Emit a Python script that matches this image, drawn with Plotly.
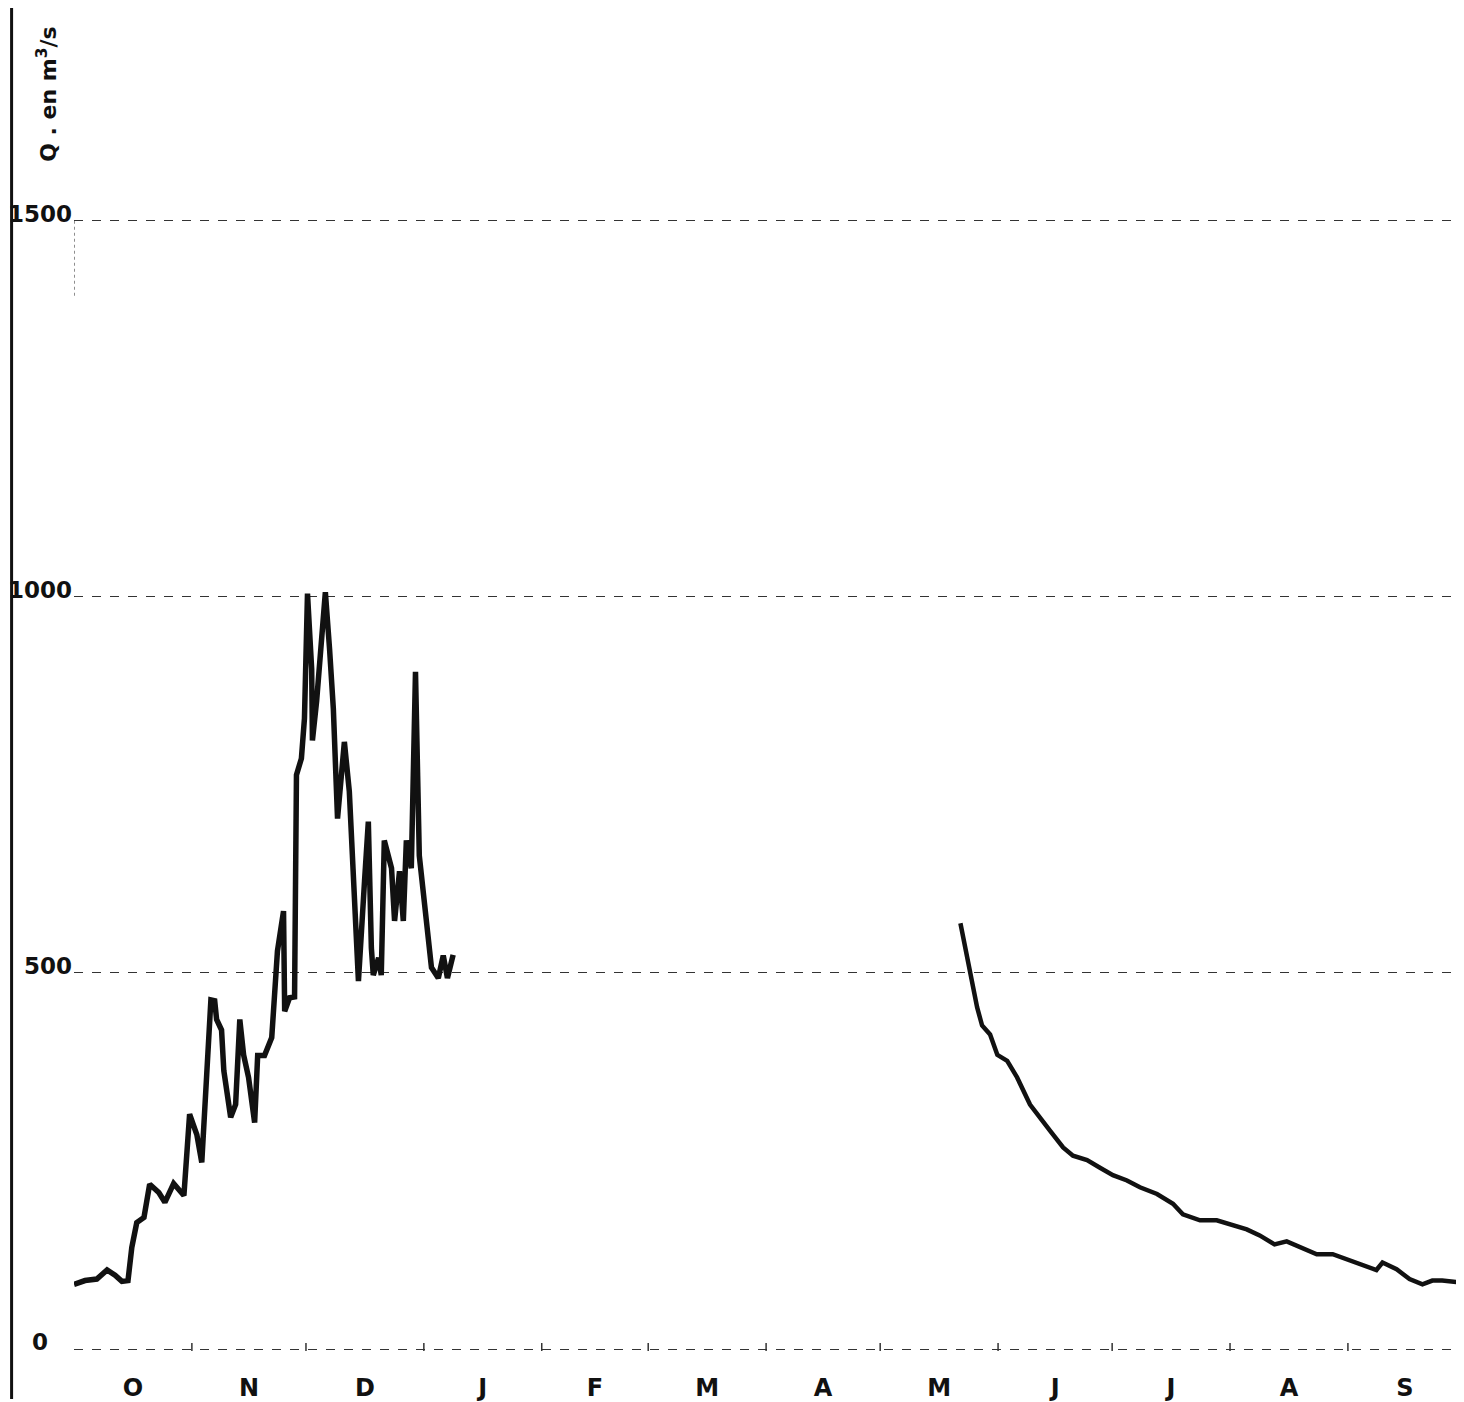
import plotly.graph_objects as go

# Hydrological year Oct -> Sep ; x = day since 1 October
month_labels = ["O", "N", "D", "J", "F", "M", "A", "M", "J", "J", "A", "S"]
month_days = [31, 30, 31, 31, 28, 31, 30, 31, 30, 31, 31, 30]
y_ticks = [0, 500, 1000, 1500]
y_ticktext = ["0\u00a0\u00a0\u00a0", "500", "1000", "1500"]

# Autumn-winter flood period (Oct -> early Jan)
day_a = [0, 2.9, 6.0, 8.7, 10.8, 12.6, 14.2, 15.2, 16.5, 18.4, 19.9, 22.3, 23.9,
         26.2, 28.9, 30.4, 32.3, 33.6, 34.9, 36.0, 37.0, 37.5, 38.8, 39.4, 41.2,
         42.5, 43.6, 44.6, 45.9, 47.5, 48.3, 50.1, 52.0, 53.5, 55.1, 55.4, 56.7,
         58.0, 58.5, 59.8, 60.6, 61.4, 62.5, 62.7, 63.8, 65.1, 66.1, 67.2, 68.2,
         69.3, 70.3, 71.1, 72.4, 73.5, 74.8, 76.4, 77.4, 78.2, 78.7, 80.1, 80.8,
         81.6, 83.5, 84.3, 85.6, 86.6, 87.4, 88.7, 89.8, 90.8, 92.7, 94.0, 95.8,
         97.1, 98.2, 99.7]
q_a = [86, 91, 93, 105, 98, 90, 91, 135, 168, 175, 219, 208, 195,
       220, 204, 312, 285, 248, 365, 464, 463, 438, 424, 370, 308,
       325, 438, 391, 361, 301, 390, 390, 414, 529, 582, 449, 467,
       468, 763, 785, 838, 1004, 904, 809, 861, 948, 1006, 931, 851,
       705, 763, 807, 741, 639, 489, 622, 701, 533, 497, 520, 497,
       676, 639, 569, 635, 569, 676, 639, 900, 656, 560, 507, 493,
       523, 493, 524]

# Recession period (late May -> Sep)
day_b = [233.1, 235.7, 237.5, 238.8, 240.9, 242.8, 245.4, 248.0, 251.4, 256.7,
         260.1, 262.7, 266.4, 269.8, 273.2, 276.9, 280.3, 284.8, 289.0, 291.6,
         296.1, 300.5, 303.9, 308.4, 311.8, 315.7, 318.9, 322.3, 326.8, 331.0,
         335.4, 339.9, 342.5, 344.1, 347.8, 351.2, 354.6, 357.2, 359.8, 363.5]
q_b = [566, 497, 454, 430, 418, 391, 383, 361, 325, 290,
       268, 257, 251, 241, 231, 224, 215, 206, 193, 179,
       171, 171, 166, 159, 151, 139, 143, 135, 126, 126,
       118, 109, 105, 115, 106, 93, 86, 91, 91, 89]

# month centres and boundaries derived from month lengths
starts = [sum(month_days[:i]) for i in range(len(month_days))]
centers = [s + d / 2 for s, d in zip(starts, month_days)]
year_len = sum(month_days)

fig = go.Figure()
fig.add_trace(go.Scatter(x=day_a, y=q_a, mode="lines",
                         line=dict(color="#111111", width=5.5), showlegend=False))
fig.add_trace(go.Scatter(x=day_b, y=q_b, mode="lines",
                         line=dict(color="#111111", width=4.5), showlegend=False))

# the page body adds an 8 px margin around the figure
W, H = 1456, 1394
ml, mr, mt, mb = 64, 2, 0, 48
plot_w = W - ml - mr
plot_h = H - mt - mb
px_per_unit = 0.754
y_lo = -2 / px_per_unit
y_max = y_lo + plot_h / px_per_unit

fig.update_layout(
    width=W, height=H,
    margin=dict(l=ml, r=mr, t=mt, b=mb),
    paper_bgcolor="white", plot_bgcolor="white",
    font=dict(family="DejaVu Sans", color="#111111"),
    xaxis=dict(range=[0, year_len], tickvals=centers, ticktext=month_labels,
               showgrid=False, zeroline=False, showline=False, ticks="",
               tickfont=dict(size=24, family="DejaVu Sans", color="#111111", weight="bold"),
               ticklabelstandoff=20),
    yaxis=dict(range=[y_lo, y_max], tickvals=y_ticks, ticktext=y_ticktext,
               showgrid=True, gridcolor="#333333", gridwidth=1.3, griddash="dash",
               zeroline=False, showline=False, ticks="",
               tickfont=dict(size=23, family="DejaVu Sans", color="#111111", weight="bold"),
               ticklabelshift=-7, ticklabelstandoff=1),
)

# month boundary tick marks on the zero line
for s in starts[1:]:
    fig.add_shape(type="line", xref="x", yref="y", x0=s, x1=s, y0=-8, y1=8,
                  line=dict(color="#333333", width=1.5))

# short dotted drop below the 1500 line at the start of the axis
fig.add_shape(type="line", xref="x", yref="y", x0=0, x1=0,
              y0=y_ticks[-1] - 100, y1=y_ticks[-1],
              line=dict(color="#444444", width=1.2, dash="dot"))

# y-axis title (page coords centre ~ (45, 95))
fig.add_annotation(text="<b>Q . en m<sup>3</sup>/s</b>", xref="paper", yref="paper",
                   x=(45 - 8 - ml) / plot_w, y=(plot_h - (95 - 8)) / plot_h,
                   xanchor="center", yanchor="middle",
                   textangle=-90, showarrow=False,
                   font=dict(size=22, family="DejaVu Sans", color="#111111"))

# left frame line
x_left = (1.5 - ml) / plot_w
fig.add_shape(type="line", xref="paper", yref="paper", layer="above",
              x0=x_left, x1=x_left, y0=-mb / plot_h, y1=1,
              line=dict(color="#111111", width=3))

fig.write_html("out.html")
